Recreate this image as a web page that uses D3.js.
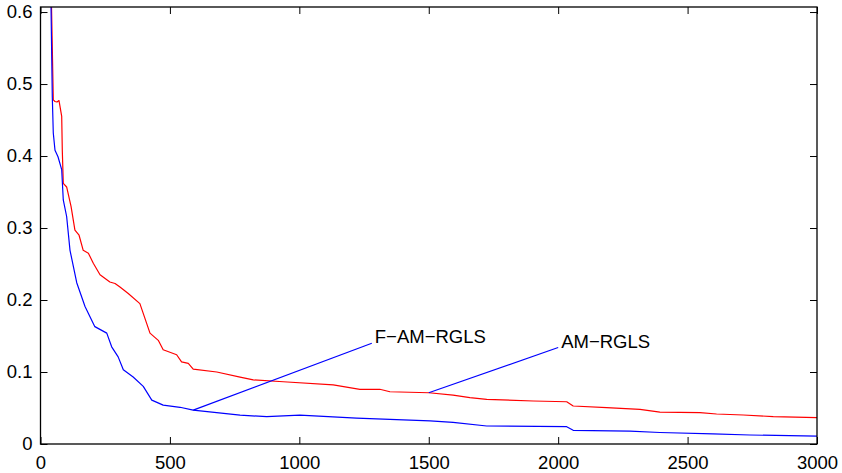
<!DOCTYPE html>
<html>
<head>
<meta charset="utf-8">
<script src="https://cdn.jsdelivr.net/npm/d3@7"></script>
<style>
  body { margin: 0; background: #fff; }
  text { font-family: "Liberation Sans", Arial, sans-serif; }
</style>
</head>
<body>
<div id="chart-container"></div>
<script>
// iterations and error values
const blueX = [35, 45.6, 49.4, 56, 67.6, 81.9, 88, 101, 114, 140, 172, 210, 256, 275, 300, 320, 358, 397, 430, 474, 539, 590, 771, 874, 1002, 1221, 1505, 1594, 1724, 2033, 2058, 2277, 2393, 2598, 2741, 3000];
const blueY = [0.75, 0.482, 0.432, 0.408, 0.399, 0.381, 0.339, 0.316, 0.269, 0.224, 0.191, 0.163, 0.154, 0.135, 0.121, 0.103, 0.093, 0.080, 0.061, 0.054, 0.051, 0.047, 0.040, 0.038, 0.040, 0.036, 0.032, 0.030, 0.025, 0.024, 0.019, 0.018, 0.016, 0.014, 0.0125, 0.011];

const redX = [35, 49.4, 56, 63.7, 71.5, 81.9, 84.2, 88, 101, 118, 133, 149, 165, 185, 204, 230, 268, 288, 307, 339, 384, 423, 455, 474, 526, 545, 571, 590, 681, 771, 822, 938, 1131, 1234, 1311, 1350, 1501, 1594, 1659, 1724, 1904, 2033, 2058, 2187, 2316, 2393, 2548, 2612, 2715, 2831, 3000];
const redY = [0.75, 0.478, 0.4757, 0.475, 0.477, 0.455, 0.408, 0.362, 0.357, 0.330, 0.297, 0.290, 0.269, 0.265, 0.251, 0.235, 0.225, 0.223, 0.218, 0.209, 0.195, 0.154, 0.144, 0.131, 0.124, 0.114, 0.112, 0.104, 0.100, 0.093, 0.089, 0.0865, 0.082, 0.076, 0.076, 0.0726, 0.0712, 0.068, 0.0643, 0.062, 0.0597, 0.0587, 0.0528, 0.0504, 0.048, 0.0444, 0.0435, 0.0417, 0.0403, 0.038, 0.0365];

const xTicks = [0, 500, 1000, 1500, 2000, 2500, 3000];
const yTicks = [0, 0.1, 0.2, 0.3, 0.4, 0.5, 0.6];

// annotations: label, point on the curve, where the label sits
const noteLabels = ["F\u2212AM\u2212RGLS", "AM\u2212RGLS"];
const notePoint = [[590, 0.047], [1500, 0.0712]];
const noteText = [[1280, 0.14], [2000, 0.134]];

const width = 842, height = 473;
const margin = { top: 7, right: 25, bottom: 29, left: 40.5 };

const svg = d3.select("#chart-container")
    .append("svg")
    .attr("width", width)
    .attr("height", height);

const x = d3.scaleLinear().domain([0, 3000]).range([margin.left, width - margin.right]);
const y = d3.scaleLinear().domain([0, 0.607]).range([height - margin.bottom, margin.top]);

svg.append("clipPath").attr("id", "clip")
    .append("rect")
    .attr("x", margin.left).attr("y", margin.top)
    .attr("width", width - margin.right - margin.left)
    .attr("height", height - margin.bottom - margin.top);

const line = d3.line()
    .x(d => x(d[0]))
    .y(d => y(d[1]));

const plot = svg.append("g").attr("clip-path", "url(#clip)");

plot.append("path")
    .datum(redX.map((v, i) => [v, redY[i]]))
    .attr("fill", "none")
    .attr("stroke", "#ff0000")
    .attr("stroke-width", 1.2)
    .attr("stroke-linejoin", "round")
    .attr("d", line);

plot.append("path")
    .datum(blueX.map((v, i) => [v, blueY[i]]))
    .attr("fill", "none")
    .attr("stroke", "#0000ff")
    .attr("stroke-width", 1.2)
    .attr("stroke-linejoin", "round")
    .attr("d", line);

// axes, ticks pointing inwards, on all four sides
const tickLen = 7;
const fontSize = 18.5;

const xBottom = d3.axisBottom(x).tickValues(xTicks).tickSizeInner(-tickLen).tickSizeOuter(0).tickPadding(tickLen + 5).tickFormat(d3.format("d"));
const xTop = d3.axisTop(x).tickValues(xTicks).tickSizeInner(-tickLen).tickSizeOuter(0).tickFormat("");
const yLeft = d3.axisLeft(y).tickValues(yTicks).tickSizeInner(-tickLen).tickSizeOuter(0).tickPadding(8).tickFormat(d => d === 0 ? "0" : d3.format(".1f")(d));
const yRight = d3.axisRight(y).tickValues(yTicks).tickSizeInner(-tickLen).tickSizeOuter(0).tickFormat("");

const gB = svg.append("g").attr("transform", `translate(0,${height - margin.bottom})`).call(xBottom);
const gT = svg.append("g").attr("transform", `translate(0,${margin.top})`).call(xTop);
const gL = svg.append("g").attr("transform", `translate(${margin.left},0)`).call(yLeft);
const gR = svg.append("g").attr("transform", `translate(${width - margin.right},0)`).call(yRight);

[gB, gT, gL, gR].forEach(g => {
    g.selectAll(".domain").remove();
    g.selectAll("line").attr("stroke", "#000").attr("stroke-width", 1);
    g.selectAll("text").attr("fill", "#000").style("font-size", fontSize + "px").style("font-family", '"Liberation Sans", Arial, sans-serif');
});

// box round the plot
svg.append("rect")
    .attr("x", margin.left).attr("y", margin.top)
    .attr("width", width - margin.right - margin.left)
    .attr("height", height - margin.bottom - margin.top)
    .attr("fill", "none")
    .attr("stroke", "#000")
    .attr("stroke-width", 1.3);

// annotations
noteLabels.forEach((label, i) => {
    svg.append("line")
        .attr("x1", x(notePoint[i][0])).attr("y1", y(notePoint[i][1]))
        .attr("x2", x(noteText[i][0])).attr("y2", y(noteText[i][1]))
        .attr("stroke", "#0000ff")
        .attr("stroke-width", 1.2);
    svg.append("text")
        .attr("x", x(noteText[i][0]) + 3)
        .attr("y", y(noteText[i][1]))
        .style("font-size", fontSize + "px")
        .attr("fill", "#000")
        .text(label);
});
</script>
</body>
</html>
